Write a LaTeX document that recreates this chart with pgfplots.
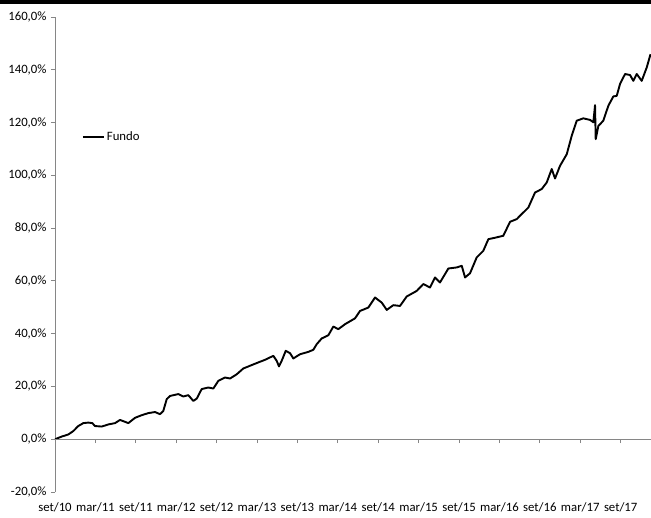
\documentclass[border=0pt]{standalone}
\usepackage{pgfplots}
\pgfplotsset{compat=1.18}
\usepackage{fontspec}
\setmainfont{Carlito}
\pgfplotstableread{
m v
0.00 0.0
0.99 1.0
1.98 1.8
2.72 3.1
3.46 5.0
4.20 6.1
4.95 6.3
5.54 6.1
5.94 5.0
6.94 4.8
7.92 5.6
8.91 6.1
9.65 7.3
10.40 6.6
10.89 6.1
11.88 8.1
12.87 9.1
13.86 9.9
14.85 10.3
15.59 9.5
16.08 10.7
16.59 15.2
17.08 16.4
18.31 17.1
19.06 16.2
19.80 16.7
20.54 14.5
21.05 15.4
21.78 19.0
22.77 19.6
23.51 19.2
24.25 22.1
25.25 23.4
25.99 23.0
26.98 24.6
27.96 26.8
29.21 28.1
30.19 29.1
31.19 30.1
32.42 31.6
32.92 29.7
33.26 27.6
33.66 29.7
34.26 33.5
34.90 32.6
35.39 30.6
36.38 32.2
37.62 33.1
38.36 33.9
38.86 36.0
39.61 38.2
40.59 39.4
41.33 42.7
42.07 41.7
43.07 43.6
44.55 45.8
45.29 48.6
46.53 49.9
47.52 53.7
48.51 51.8
49.26 49.0
50.24 50.8
51.23 50.5
52.23 54.1
53.71 56.2
54.69 58.8
55.69 57.5
56.43 61.3
57.17 59.4
58.41 64.7
59.65 65.1
60.40 65.7
60.89 61.3
61.63 62.9
62.62 68.9
63.60 71.4
64.35 75.8
65.59 76.5
66.57 77.1
67.57 82.4
68.56 83.4
69.30 85.3
70.29 87.8
71.28 93.5
72.27 94.8
73.02 97.3
73.76 102.4
74.25 98.8
74.99 103.6
75.99 108.0
76.73 115.0
77.47 120.7
78.45 121.6
79.45 121.0
79.94 120.1
80.19 126.6
80.29 113.7
80.68 118.7
81.42 120.7
82.17 126.4
82.91 129.9
83.41 130.1
83.90 134.6
84.65 138.4
85.39 138.0
85.88 135.8
86.38 138.4
87.12 135.8
87.87 140.9
88.43 145.9
}\fundo
\definecolor{axisgray}{RGB}{134,134,134}
\begin{document}
\begin{tikzpicture}
\begin{axis}[
  at={(0,0)}, anchor=south west,
  scale only axis, width=596bp, height=475bp,
  xmin=0, xmax=88.5, ymin=-20, ymax=160,
  axis x line=bottom, axis y line=left,
  x axis line style={draw=none},
  y axis line style={axisgray, line width=0.8bp, -},
  xtick={0,6,...,84},
  xticklabels={set/10,mar/11,set/11,mar/12,set/12,mar/13,set/13,mar/14,set/14,mar/15,set/15,mar/16,set/16,mar/17,set/17},
  x tick style={draw=none},
  ytick={-20,0,...,160},
  yticklabels={{-20,0\%},{0,0\%},{20,0\%},{40,0\%},{60,0\%},{80,0\%},{100,0\%},{120,0\%},{140,0\%},{160,0\%}},
  y tick style={axisgray, line width=0.8bp},
  tick align=outside, major tick length=4bp,
  tick label style={font=\fontsize{12.8}{14}\selectfont},
  yticklabel style={xshift=-1bp},
  xticklabel style={yshift=-3bp},
  legend style={at={(rel axis cs:0.045,0.748)}, anchor=west, draw=none, fill=none,
    font=\fontsize{12.8}{14}\selectfont, inner sep=0pt},
  legend image code/.code={\draw[#1] (0bp,0bp) -- (21bp,0bp);},
]
\addplot[black, line width=1.9bp, line join=round] table[x=m, y=v] {\fundo};
\addlegendentry{Fundo}
\end{axis}
\begin{axis}[
  at={(0,0)}, anchor=south west,
  scale only axis, width=596bp, height=475bp,
  xmin=0, xmax=88.5, ymin=-20, ymax=160,
  axis x line=middle, axis y line=none,
  axis line style={axisgray, line width=0.8bp, -},
  xtick={0,6,...,84}, xticklabels={},
  x tick style={axisgray, line width=0.8bp},
  tick align=outside, major tick length=4bp,
  ytick=\empty,
]
\end{axis}
\fill[black] (-55bp,487.7bp) rectangle (596bp,492bp);
\pgfresetboundingbox
\path[use as bounding box] (-55bp,-26bp) rectangle (596bp,492bp);
\end{tikzpicture}
\end{document}
